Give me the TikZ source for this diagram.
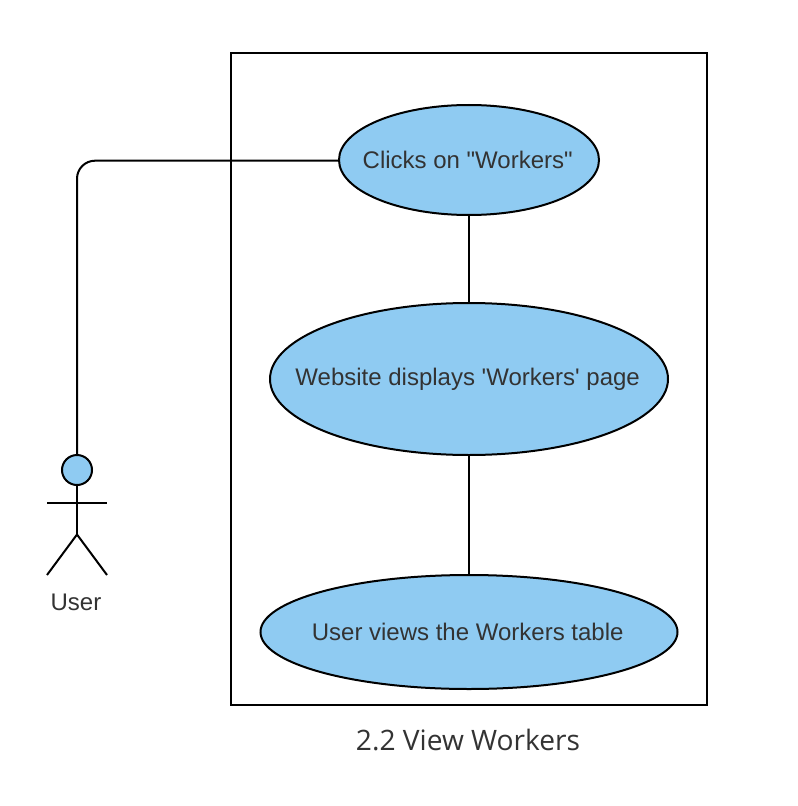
\documentclass[tikz,border=0pt]{standalone}
\usepackage{fontspec}
\setmainfont{Liberation Sans}[Ligatures=TeXOff]
\newfontfamily\capfont{Open Sans}
\usetikzlibrary{shapes.geometric}
\definecolor{ucblue}{HTML}{8FCBF2}
\definecolor{txt}{HTML}{333333}
\newcommand{\uctext}[1]{\makebox[0pt][c]{\hspace*{-2pt}\raisebox{-1.9pt}{#1}}}
\tikzset{
 px/.style={x=0.75pt,y=-0.75pt},
 uc/.style={ellipse,draw=black,fill=ucblue,line width=1.5pt,inner sep=0pt,text=txt,font=\fontsize{18pt}{21pt}\selectfont},
 ln/.style={draw=black,line width=1.5pt},
 lbl/.style={text=txt,inner sep=0pt}
}
\begin{document}
\begin{tikzpicture}[px]
\useasboundingbox (0,0) rectangle (798,806);
\fill[white] (0,0) rectangle (798,806);
\node[draw=black,line width=1.5pt,minimum width=476*0.75pt,minimum height=652*0.75pt,inner sep=0pt] (sys) at (469,379) {};
\node[uc,minimum width=260*0.75pt,minimum height=110*0.75pt] (a) at (469,160) {\uctext{Clicks on "Workers"}};
\node[uc,minimum width=398*0.75pt,minimum height=152*0.75pt] (b) at (469,379) {\uctext{Website displays 'Workers' page}};
\node[uc,minimum width=417*0.75pt,minimum height=114*0.75pt] (c) at (469,632) {\uctext{User views the Workers table}};
\node[circle,draw=black,fill=ucblue,line width=1.5pt,minimum size=30*0.75pt,inner sep=0pt] (head) at (77,470) {};
\coordinate (hip) at (77,534.5);
\coordinate (armL) at (47,503);
\coordinate (armR) at (107,503);
\coordinate (footL) at (47,575);
\coordinate (footR) at (107,575);
\draw[ln] (head) -- (hip);
\draw[ln] (armL) -- (armR);
\draw[ln] (footL) -- (hip) -- (footR);
\node[lbl,font=\fontsize{18pt}{21pt}\selectfont] (user) at (76,602) {User};
\node[lbl,font=\capfont\fontsize{21.1pt}{25pt}\selectfont] (title) at (468,740) {2.2 View Workers};
\draw[ln] (a) -- (b);
\draw[ln] (b) -- (c);
\draw[ln,rounded corners=13.5pt] (head.north) -- (77,160.7) -- (a.west |- 0,160.7);
\end{tikzpicture}
\end{document}
